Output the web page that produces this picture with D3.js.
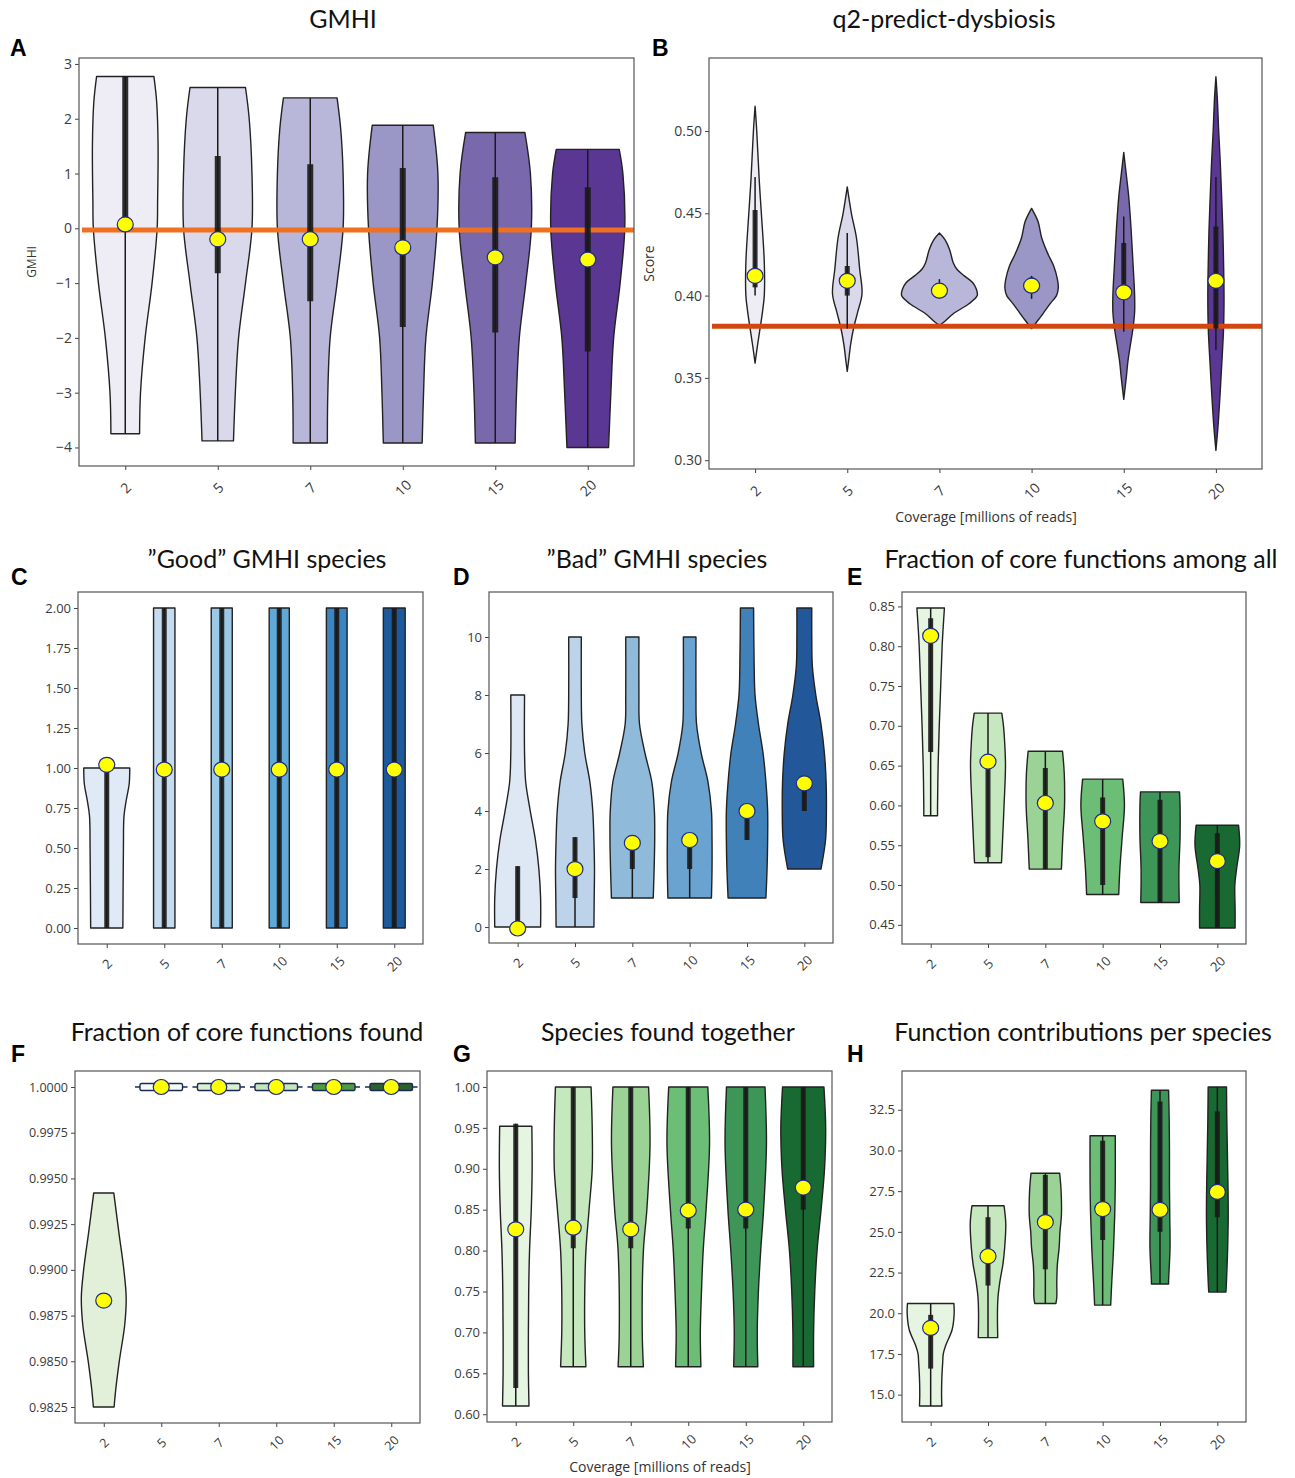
<!DOCTYPE html>
<html>
<head>
<meta charset="utf-8">
<script src="https://cdn.jsdelivr.net/npm/d3@7"></script>
<style>
    body { margin: 0; background: #fff; }
    text { font-family: "Open Sans", sans-serif; }
</style>
</head>
<body>
<div id="chart"></div>
<script>

// coverage levels (millions of reads)
const categories = ["2", "5", "7", "10", "15", "20"];

// violin profiles: [value, half width as fraction of category spacing]
// box rows: [whisker low, q1, q3, whisker high]

// A - GMHI
const gmhiViolins = [
    [[2.77, 0.31], [2.3, 0.34], [1.5, 0.355], [0.5, 0.35], [0, 0.345], [-1, 0.29], [-2, 0.215], [-3, 0.165], [-3.75, 0.155]],
    [[2.57, 0.30], [2.0, 0.34], [1.0, 0.37], [0, 0.37], [-1, 0.30], [-2, 0.225], [-3, 0.19], [-3.88, 0.17]],
    [[2.38, 0.29], [1.8, 0.33], [1.0, 0.355], [0, 0.355], [-1, 0.29], [-2, 0.215], [-3, 0.19], [-3.92, 0.185]],
    [[1.88, 0.33], [1.0, 0.38], [0, 0.37], [-1, 0.32], [-2, 0.25], [-3, 0.225], [-3.92, 0.21]],
    [[1.75, 0.32], [1.0, 0.38], [0, 0.39], [-1, 0.33], [-2, 0.26], [-3, 0.23], [-3.92, 0.215]],
    [[1.44, 0.34], [1.0, 0.38], [0, 0.40], [-1, 0.35], [-2, 0.28], [-3, 0.25], [-4.0, 0.225]]
];
const gmhiBoxes = [[-3.75, 0.05, 2.77, 2.77], [-3.88, -0.82, 1.32, 2.57], [-3.92, -1.33, 1.17, 2.38],
    [-3.92, -1.8, 1.1, 1.88], [-3.92, -1.9, 0.93, 1.75], [-4.0, -2.25, 0.75, 1.44]];
const gmhiMeans = [0.07, -0.2, -0.2, -0.35, -0.53, -0.57];
const gmhiTicks = [-4, -3, -2, -1, 0, 1, 2, 3];
const gmhiReference = -0.03;

// B - q2-predict-dysbiosis
const dysbiosisViolins = [
    [[0.515, 0], [0.50, 0.018], [0.47, 0.045], [0.45, 0.068], [0.42, 0.10], [0.40, 0.10], [0.39, 0.08], [0.38, 0.054], [0.37, 0.027], [0.359, 0]],
    [[0.466, 0], [0.45, 0.045], [0.435, 0.10], [0.416, 0.135], [0.401, 0.16], [0.39, 0.113], [0.38, 0.068], [0.37, 0.036], [0.36, 0.014], [0.354, 0]],
    [[0.438, 0], [0.434, 0.06], [0.428, 0.11], [0.42, 0.15], [0.416, 0.19], [0.412, 0.27], [0.408, 0.36], [0.404, 0.40], [0.40, 0.41], [0.395, 0.32], [0.389, 0.15], [0.384, 0.05], [0.382, 0]],
    [[0.453, 0], [0.445, 0.07], [0.435, 0.11], [0.425, 0.18], [0.418, 0.24], [0.41, 0.28], [0.405, 0.29], [0.40, 0.27], [0.395, 0.2], [0.39, 0.135], [0.385, 0.07], [0.38, 0]],
    [[0.487, 0], [0.48, 0.014], [0.46, 0.054], [0.44, 0.08], [0.42, 0.10], [0.40, 0.118], [0.39, 0.118], [0.38, 0.10], [0.37, 0.072], [0.36, 0.045], [0.35, 0.027], [0.337, 0]],
    [[0.533, 0], [0.52, 0.015], [0.50, 0.03], [0.48, 0.048], [0.46, 0.062], [0.44, 0.075], [0.42, 0.083], [0.40, 0.088], [0.38, 0.083], [0.36, 0.065], [0.34, 0.045], [0.32, 0.022], [0.306, 0]]
];
const dysbiosisBoxes = [[0.40, 0.405, 0.452, 0.472], [0.38, 0.400, 0.418, 0.438], [0.398, 0.401, 0.405, 0.41],
    [0.398, 0.402, 0.411, 0.412], [0.378, 0.398, 0.432, 0.448], [0.367, 0.38, 0.442, 0.472]];
const dysbiosisMeans = [0.412, 0.409, 0.403, 0.406, 0.402, 0.409];
const dysbiosisTicks = [0.30, 0.35, 0.40, 0.45, 0.50];
const dysbiosisReference = 0.3814;

// C - "Good" GMHI species
const goodViolins = [
    [[1.0, 0.40], [0.9, 0.39], [0.8, 0.34], [0.7, 0.30], [0.5, 0.29], [0.0, 0.28]],
    [[2, 0.186], [0, 0.186]],
    [[2, 0.183], [0, 0.183]],
    [[2, 0.175], [0, 0.175]],
    [[2, 0.18], [0, 0.18]],
    [[2, 0.19], [0, 0.19]]
];
const goodBoxes = [[0, 0, 1, 1], [0, 0, 2, 2], [0, 0, 2, 2], [0, 0, 2, 2], [0, 0, 2, 2], [0, 0, 2, 2]];
const goodMeans = [1.02, 0.99, 0.99, 0.99, 0.99, 0.99];
const goodTicks = [0, 0.25, 0.5, 0.75, 1, 1.25, 1.5, 1.75, 2];

// D - "Bad" GMHI species
const badViolins = [
    [[8, 0.12], [6, 0.12], [5, 0.14], [4, 0.22], [3, 0.31], [2, 0.37], [1, 0.40], [0, 0.40]],
    [[10, 0.11], [8, 0.11], [7, 0.12], [6, 0.17], [5, 0.26], [4, 0.31], [3, 0.33], [2, 0.34], [1, 0.335], [0, 0.33]],
    [[10, 0.115], [8, 0.115], [7, 0.125], [6, 0.22], [5, 0.34], [4, 0.385], [3, 0.39], [2, 0.38], [1, 0.365]],
    [[10, 0.11], [8, 0.11], [7, 0.12], [6, 0.20], [5, 0.32], [4, 0.38], [3, 0.39], [2, 0.39], [1, 0.38]],
    [[11, 0.115], [9, 0.125], [8, 0.14], [7, 0.20], [6, 0.28], [5, 0.33], [4, 0.36], [3, 0.36], [2, 0.35], [1, 0.33]],
    [[11, 0.13], [10, 0.13], [9, 0.14], [8, 0.20], [7, 0.29], [6, 0.35], [5, 0.38], [4, 0.385], [3, 0.37], [2, 0.29]]
];
const badBoxes = [[0, 0, 2.1, 2.1], [0, 1, 3.1, 3.1], [1, 2, 3, 3], [1, 2, 3, 3], [3, 3, 4, 4], [4, 4, 5, 5]];
const badMeans = [-0.05, 2.0, 2.9, 3.0, 4.0, 4.95];
const badTicks = [0, 2, 4, 6, 8, 10];

// E - Fraction of core functions among all
const coreAllViolins = [
    [[0.848, 0.24], [0.82, 0.215], [0.80, 0.20], [0.75, 0.175], [0.70, 0.15], [0.65, 0.13], [0.60, 0.12], [0.587, 0.12]],
    [[0.716, 0.24], [0.70, 0.27], [0.68, 0.29], [0.65, 0.305], [0.60, 0.28], [0.55, 0.25], [0.528, 0.235]],
    [[0.668, 0.30], [0.64, 0.33], [0.60, 0.335], [0.56, 0.305], [0.52, 0.28]],
    [[0.633, 0.35], [0.60, 0.38], [0.56, 0.34], [0.52, 0.30], [0.488, 0.28]],
    [[0.617, 0.34], [0.60, 0.35], [0.56, 0.35], [0.52, 0.33], [0.478, 0.335]],
    [[0.575, 0.37], [0.55, 0.39], [0.52, 0.335], [0.50, 0.305], [0.47, 0.31], [0.446, 0.31]]
];
const coreAllBoxes = [[0.587, 0.667, 0.835, 0.848], [0.528, 0.535, 0.655, 0.716], [0.52, 0.52, 0.647, 0.668],
    [0.488, 0.50, 0.61, 0.633], [0.478, 0.478, 0.607, 0.617], [0.446, 0.446, 0.565, 0.575]];
const coreAllMeans = [0.813, 0.655, 0.603, 0.58, 0.555, 0.530];
const coreAllTicks = [0.45, 0.50, 0.55, 0.60, 0.65, 0.70, 0.75, 0.80, 0.85];

// F - Fraction of core functions found
const coreFoundViolins = [
    [[0.9942, 0.175], [0.992, 0.265], [0.990, 0.35], [0.9885, 0.39], [0.987, 0.365], [0.985, 0.27], [0.9835, 0.21], [0.9825, 0.18]],
    [[1.0, 0.37], [1.0, 0.37]],
    [[1.0, 0.37], [1.0, 0.37]],
    [[1.0, 0.37], [1.0, 0.37]],
    [[1.0, 0.37], [1.0, 0.37]],
    [[1.0, 0.37], [1.0, 0.37]]
];
const coreFoundBoxes = [null, null, null, null, null, null];
const coreFoundMeans = [0.98832, 1.0, 1.0, 1.0, 1.0, 1.0];
const coreFoundTicks = [0.9825, 0.985, 0.9875, 0.99, 0.9925, 0.995, 0.9975, 1.0];

// G - Species found together
const togetherViolins = [
    [[0.952, 0.28], [0.90, 0.285], [0.85, 0.27], [0.80, 0.24], [0.75, 0.225], [0.70, 0.22], [0.65, 0.22], [0.61, 0.23]],
    [[1.0, 0.31], [0.95, 0.33], [0.90, 0.33], [0.85, 0.275], [0.80, 0.22], [0.75, 0.20], [0.70, 0.20], [0.658, 0.22]],
    [[1.0, 0.31], [0.93, 0.335], [0.85, 0.28], [0.80, 0.22], [0.70, 0.20], [0.658, 0.22]],
    [[1.0, 0.34], [0.93, 0.37], [0.85, 0.31], [0.80, 0.26], [0.75, 0.23], [0.70, 0.21], [0.658, 0.22]],
    [[1.0, 0.335], [0.93, 0.36], [0.85, 0.31], [0.80, 0.26], [0.75, 0.22], [0.70, 0.20], [0.658, 0.21]],
    [[1.0, 0.36], [0.95, 0.39], [0.90, 0.37], [0.85, 0.31], [0.80, 0.24], [0.75, 0.20], [0.70, 0.18], [0.658, 0.18]]
];
const togetherBoxes = [[0.61, 0.632, 0.955, 0.955], [0.658, 0.803, 1.0, 1.0], [0.658, 0.803, 1.0, 1.0],
    [0.658, 0.827, 1.0, 1.0], [0.658, 0.827, 1.0, 1.0], [0.658, 0.85, 1.0, 1.0]];
const togetherMeans = [0.826, 0.828, 0.826, 0.849, 0.85, 0.877];
const togetherTicks = [0.60, 0.65, 0.70, 0.75, 0.80, 0.85, 0.90, 0.95, 1.00];

// H - Function contributions per species
const contribViolins = [
    [[20.6, 0.405], [20, 0.41], [19, 0.375], [18, 0.26], [17.5, 0.22], [17, 0.21], [16, 0.195], [15, 0.19], [14.3, 0.195]],
    [[26.6, 0.28], [25.5, 0.31], [24, 0.29], [23, 0.26], [22, 0.21], [21, 0.175], [20, 0.165], [18.5, 0.17]],
    [[28.6, 0.25], [27.5, 0.275], [26, 0.28], [25, 0.255], [24, 0.24], [23, 0.21], [22, 0.2], [21, 0.2], [20.6, 0.185]],
    [[30.9, 0.22], [28, 0.22], [26, 0.21], [24, 0.19], [22, 0.16], [20.5, 0.14]],
    [[33.7, 0.15], [32, 0.16], [30, 0.165], [28, 0.165], [26, 0.17], [24, 0.175], [22, 0.15], [21.8, 0.15]],
    [[33.9, 0.16], [32, 0.165], [30, 0.175], [28, 0.185], [26, 0.19], [24, 0.18], [22, 0.16], [21.3, 0.15]]
];
const contribBoxes = [[14.3, 16.6, 19.9, 20.6], [18.5, 21.7, 25.9, 26.6], [20.6, 22.7, 28.5, 28.6],
    [20.5, 24.5, 30.6, 30.9], [21.8, 25.0, 33.0, 33.7], [21.3, 25.9, 32.4, 33.9]];
const contribMeans = [19.1, 23.5, 25.6, 26.4, 26.35, 27.45];
const contribTicks = [15, 17.5, 20, 22.5, 25, 27.5, 30, 32.5];

// palettes
const purples = ["#eeedf5", "#dad9eb", "#b9b7d9", "#9a97c6", "#7a68ad", "#5b3794"];
const bluesGood = ["#dfeaf6", "#c5dcf0", "#9ccae6", "#62a8d7", "#3b85c2", "#1c5a9c"];
const bluesBad = ["#dde8f4", "#bcd3e9", "#90bad9", "#6aa3cf", "#3f81b8", "#22589a"];
const greens = ["#e6f5e1", "#c6e8bf", "#9bd396", "#6cbd76", "#3e9558", "#196a32"];
const greensFound = ["#e2f0da", "#f4fbf2", "#d9f0d1", "#c4e6bc", "#4f9c40", "#2b6229"];


const svg = d3.select("#chart").append("svg")
    .attr("width", 1295)
    .attr("height", 1478)
    .style("background", "#fff");

function drawPanel(p) {
    let f = p.frame;
    let g = svg.append("g");

    // y domain: data range plus 5% margin (matplotlib default)
    let vals = p.violins.flat().map(d => d[0]);
    let [lo, hi] = d3.extent(vals);
    let pad = (hi - lo) * 0.05;
    let y = d3.scaleLinear().domain([lo - pad, hi + pad]).range([f.y + f.h, f.y]);
    let x = d3.scalePoint().domain(categories).range([f.x, f.x + f.w]).padding(0.5);
    let step = x.step();

    // violins
    p.violins.forEach((prof, i) => {
        let cx = x(categories[i]);
        let pts = prof.slice().sort((a, b) => b[0] - a[0]);
        let ext = d3.extent(pts, d => d[0]);
        if (ext[0] === ext[1]) {
            // all values identical -> flat sliver
            let w = pts[0][1] * step;
            g.append("line")
                .attr("x1", cx - w - 5).attr("x2", cx + w + 5)
                .attr("y1", y(ext[0])).attr("y2", y(ext[0]))
                .attr("stroke", "#1b2a55").attr("stroke-width", 1.5);
            g.append("rect")
                .attr("x", cx - w).attr("y", y(ext[0]) - 3.5)
                .attr("width", 2 * w).attr("height", 7)
                .attr("rx", 1.5)
                .attr("fill", p.colors[i])
                .attr("stroke", "#1b2a55").attr("stroke-width", 1.4);
            return;
        }
        let area = d3.area()
            .curve(d3.curveCatmullRom.alpha(0.5))
            .y(d => y(d[0]))
            .x0(d => cx - d[1] * step)
            .x1(d => cx + d[1] * step);
        g.append("path")
            .attr("d", area(pts))
            .attr("fill", p.colors[i])
            .attr("stroke", "#222")
            .attr("stroke-width", 1.4)
            .attr("stroke-linejoin", "round");
    });

    // reference line
    if (p.reference !== undefined) {
        g.append("line")
            .attr("x1", f.x + 3).attr("x2", f.x + f.w)
            .attr("y1", y(p.reference)).attr("y2", y(p.reference))
            .attr("stroke", p.refColor)
            .attr("stroke-width", 5);
    }

    // inner boxes
    p.boxes.forEach((b, i) => {
        if (!b) return;
        let cx = x(categories[i]);
        g.append("line")
            .attr("x1", cx).attr("x2", cx)
            .attr("y1", y(b[0])).attr("y2", y(b[3]))
            .attr("stroke", "#1a1a1a").attr("stroke-width", 1.5);
        g.append("line")
            .attr("x1", cx).attr("x2", cx)
            .attr("y1", y(b[1])).attr("y2", y(b[2]))
            .attr("stroke", "#1a1a1a").attr("stroke-opacity", 0.9)
            .attr("stroke-width", p.boxWidth);
    });

    // means
    g.selectAll(".mean").data(p.means).enter().append("ellipse")
        .attr("cx", (d, i) => x(categories[i]))
        .attr("cy", d => y(d))
        .attr("rx", 8).attr("ry", 7.5)
        .attr("fill", "#ffff00")
        .attr("stroke", "#1c2c8c")
        .attr("stroke-width", 1.2);

    // axes
    let yAxis = g.append("g")
        .attr("transform", `translate(${f.x},0)`)
        .call(d3.axisLeft(y).tickValues(p.ticks).tickSize(4).tickPadding(3).tickFormat(d3.format(p.fmt)));
    let xAxis = g.append("g")
        .attr("transform", `translate(0,${f.y + f.h})`)
        .call(d3.axisBottom(x).tickSize(4));
    [yAxis, xAxis].forEach(ax => {
        ax.select(".domain").remove();
        ax.selectAll(".tick line").attr("stroke", "#444");
        ax.selectAll("text")
            .attr("fill", "#3a3a3a")
            .style("font-size", p.tickSize + "px")
            .style("font-family", "'Open Sans', sans-serif");
    });
    xAxis.selectAll("text")
        .attr("y", 0).attr("dy", "0.35em")
        .attr("transform", `translate(0,${p.xLabelOffset}) rotate(-45)`)
        .style("text-anchor", "middle");

    // frame
    g.append("rect")
        .attr("x", f.x).attr("y", f.y)
        .attr("width", f.w).attr("height", f.h)
        .attr("fill", "none")
        .attr("stroke", "#555")
        .attr("stroke-width", 1.2);

    // title and panel letter
    g.append("text")
        .attr("x", p.titleX).attr("y", p.titleY)
        .attr("text-anchor", "middle")
        .style("font-family", "Lato, sans-serif")
        .style("font-size", "25px")
        .attr("fill", "#111")
        .text(p.title);
    g.append("text")
        .attr("x", p.letterX).attr("y", p.letterY)
        .style("font-family", "'Liberation Sans', Arial, sans-serif")
        .style("font-weight", "bold")
        .style("font-size", "23px")
        .attr("fill", "#000")
        .text(p.letter);

    if (p.yLabel) {
        g.append("text")
            .attr("transform", `translate(${p.yLabelX},${f.y + f.h / 2}) rotate(-90)`)
            .attr("text-anchor", "middle")
            .style("font-size", p.yLabelSize + "px")
            .attr("fill", "#333")
            .text(p.yLabel);
    }
    if (p.xLabel) {
        g.append("text")
            .attr("x", p.xLabelX).attr("y", p.xLabelY)
            .attr("text-anchor", "middle")
            .style("font-size", "14px")
            .attr("fill", "#333")
            .text(p.xLabel);
    }
}

const xTitle = "Coverage [millions of reads]";

drawPanel({
    frame: {x: 79, y: 58, w: 555, h: 408},
    violins: gmhiViolins, boxes: gmhiBoxes, means: gmhiMeans, ticks: gmhiTicks, fmt: "d",
    colors: purples, boxWidth: 6, reference: gmhiReference, refColor: "#f07020",
    title: "GMHI", titleX: 343, titleY: 28, letter: "A", letterX: 10, letterY: 56,
    yLabel: "GMHI", yLabelX: 36, yLabelSize: 12, tickSize: 14, xLabelOffset: 22
});
drawPanel({
    frame: {x: 709, y: 58, w: 553, h: 411},
    violins: dysbiosisViolins, boxes: dysbiosisBoxes, means: dysbiosisMeans, ticks: dysbiosisTicks, fmt: ".2f",
    colors: purples, boxWidth: 5, reference: dysbiosisReference, refColor: "#d2470f",
    title: "q2-predict-dysbiosis", titleX: 944, titleY: 28, letter: "B", letterX: 652, letterY: 56,
    yLabel: "Score", yLabelX: 654, yLabelSize: 14, tickSize: 14, xLabelOffset: 22,
    xLabel: xTitle, xLabelX: 986, xLabelY: 522
});
drawPanel({
    frame: {x: 78, y: 592, w: 345, h: 352},
    violins: goodViolins, boxes: goodBoxes, means: goodMeans, ticks: goodTicks, fmt: ".2f",
    colors: bluesGood, boxWidth: 5,
    title: "\u201DGood\u201D GMHI species", titleX: 267, titleY: 568, letter: "C", letterX: 11, letterY: 585,
    tickSize: 13, xLabelOffset: 20
});
drawPanel({
    frame: {x: 489, y: 592, w: 344, h: 351},
    violins: badViolins, boxes: badBoxes, means: badMeans, ticks: badTicks, fmt: "d",
    colors: bluesBad, boxWidth: 5,
    title: "\u201DBad\u201D GMHI species", titleX: 657, titleY: 568, letter: "D", letterX: 453, letterY: 585,
    tickSize: 13, xLabelOffset: 20
});
drawPanel({
    frame: {x: 902, y: 592, w: 344, h: 352},
    violins: coreAllViolins, boxes: coreAllBoxes, means: coreAllMeans, ticks: coreAllTicks, fmt: ".2f",
    colors: greens, boxWidth: 5,
    title: "Fraction of core functions among all", titleX: 1081, titleY: 568, letter: "E", letterX: 847, letterY: 585,
    tickSize: 13, xLabelOffset: 20
});
drawPanel({
    frame: {x: 75, y: 1071, w: 345, h: 352},
    violins: coreFoundViolins, boxes: coreFoundBoxes, means: coreFoundMeans, ticks: coreFoundTicks, fmt: ".4f",
    colors: greensFound, boxWidth: 5,
    title: "Fraction of core functions found", titleX: 247, titleY: 1041, letter: "F", letterX: 11, letterY: 1062,
    tickSize: 12.5, xLabelOffset: 20
});
drawPanel({
    frame: {x: 487, y: 1071, w: 345, h: 351},
    violins: togetherViolins, boxes: togetherBoxes, means: togetherMeans, ticks: togetherTicks, fmt: ".2f",
    colors: greens, boxWidth: 5,
    title: "Species found together", titleX: 668, titleY: 1041, letter: "G", letterX: 453, letterY: 1062,
    tickSize: 13, xLabelOffset: 20,
    xLabel: xTitle, xLabelX: 660, xLabelY: 1472
});
drawPanel({
    frame: {x: 902, y: 1071, w: 344, h: 351},
    violins: contribViolins, boxes: contribBoxes, means: contribMeans, ticks: contribTicks, fmt: ".1f",
    colors: greens, boxWidth: 5,
    title: "Function contributions per species", titleX: 1083, titleY: 1041, letter: "H", letterX: 847, letterY: 1062,
    tickSize: 13, xLabelOffset: 20
});

</script>
</body>
</html>
